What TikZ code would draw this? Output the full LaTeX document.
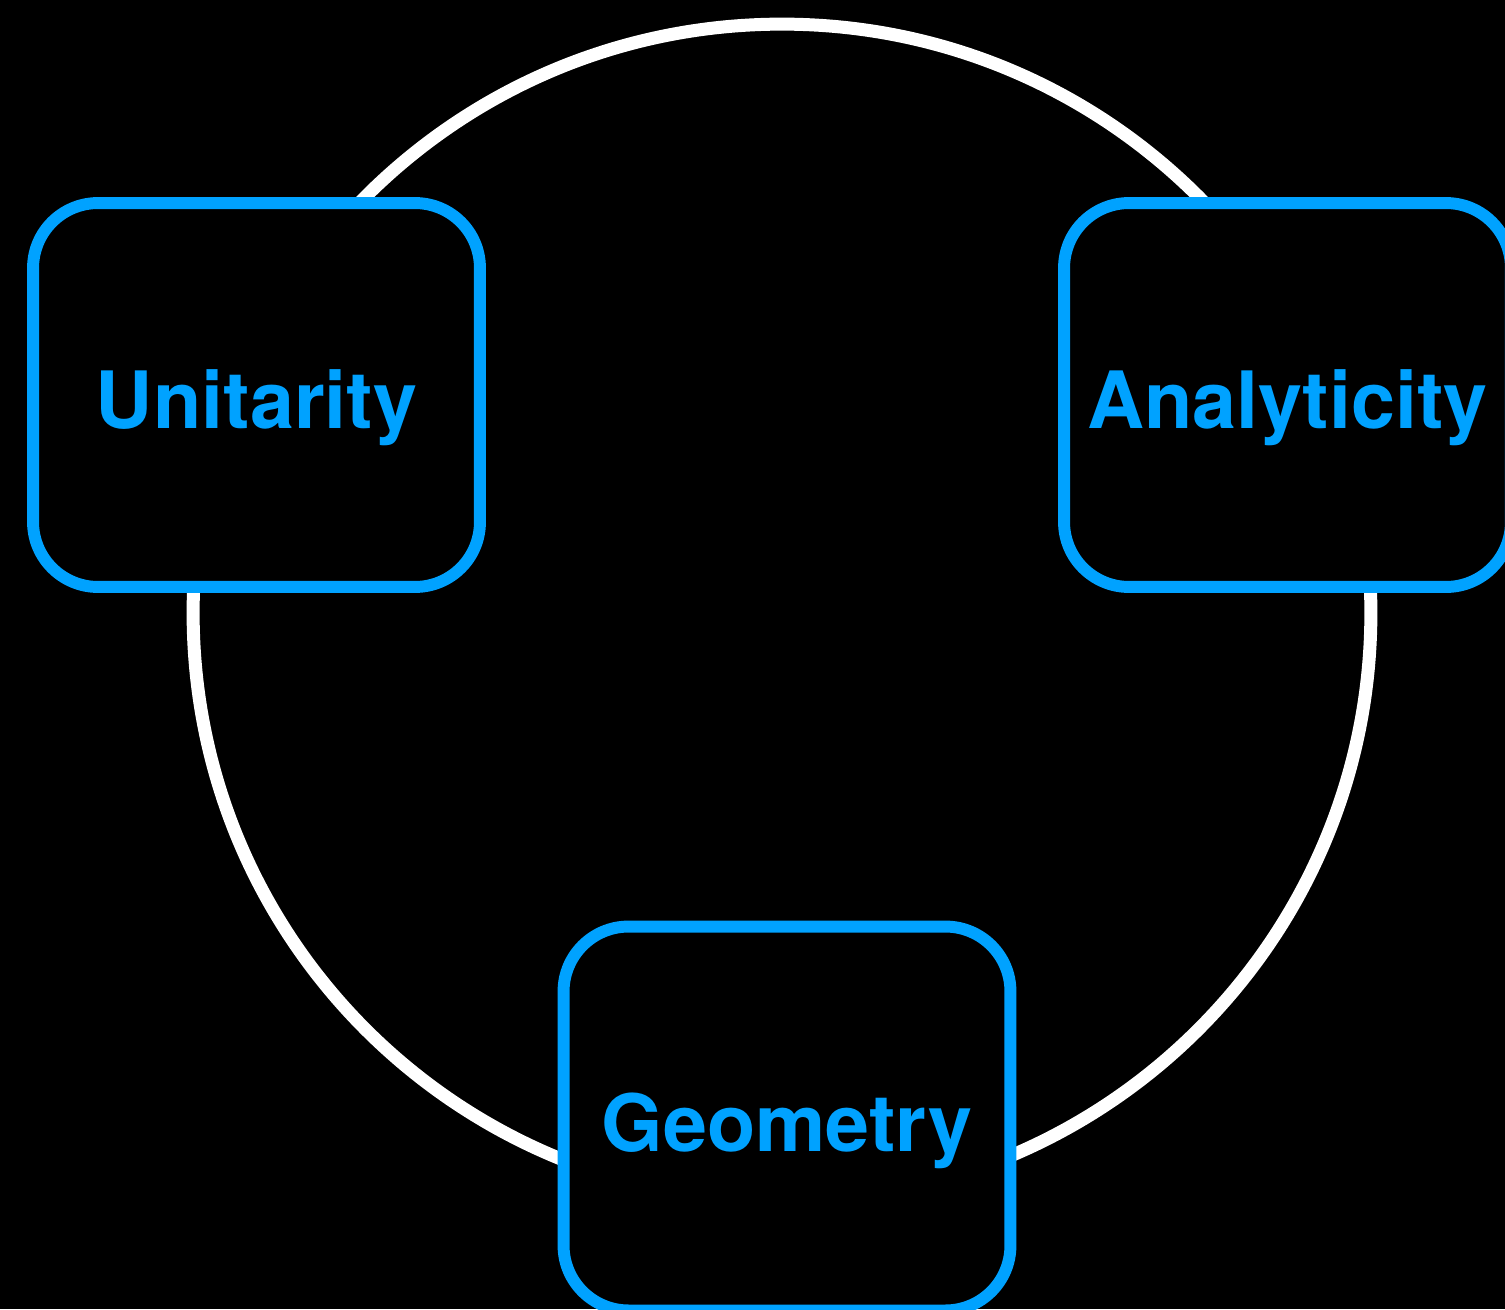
\documentclass[tikz,border=0pt]{standalone}
\usepackage{fontspec}
\setmainfont{TeX Gyre Heros}
\usepackage{xcolor}
\usetikzlibrary{math}
\definecolor{myblue}{RGB}{0,162,255}

\begin{document}
\begin{tikzpicture}[x=0.02cm,y=-0.02cm]
\tikzmath{
\R=11.78;
\W=8.94;
\H=7.68;
}
\tikzset{pillar/.style={draw=myblue, line width=6.8pt, fill=black, rounded corners=1.3cm,
  minimum width=\W cm, minimum height=\H cm, text=myblue,
  font=\fontsize{45}{54}\selectfont\bfseries, text height=38pt, text depth=0pt}}

\fill[black] (0,0) rectangle (1505,1309);
\useasboundingbox (0,0) rectangle (1505,1309);

\coordinate (O) at (782,613);
\draw[white, line width=7.4pt] (O) circle[radius=\R cm];

\node[pillar] (uni) at (256.5,395) {Unitarity};
\node[pillar] (ana) at (1287.5,395) {Analyticity};
\node[pillar] (geo) at (787,1118.5) {Geometry};

\end{tikzpicture}
\end{document}
